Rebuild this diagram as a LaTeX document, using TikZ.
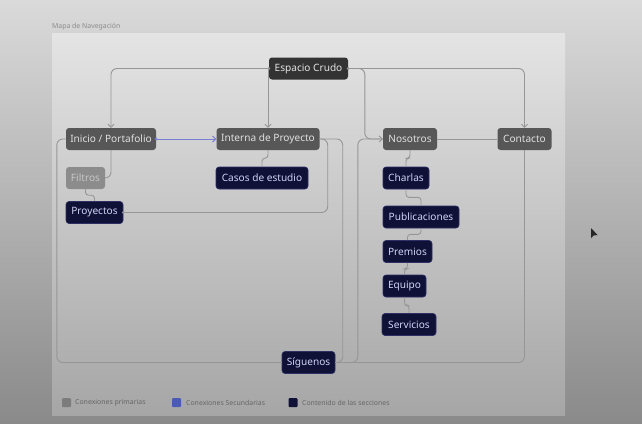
\documentclass[tikz,border=0pt]{standalone}
\usepackage{fontspec}
\setmainfont{Noto Sans}
\usetikzlibrary{arrows.meta,calc}
\definecolor{bgtop}{HTML}{DADADA}
\definecolor{bgbot}{HTML}{8A8A8A}
\definecolor{pantop}{HTML}{E4E4E4}
\definecolor{panbot}{HTML}{A6A6A6}
\definecolor{espfill}{HTML}{333333}
\definecolor{primfill}{HTML}{575757}
\definecolor{filfill}{HTML}{8C8C8C}
\definecolor{navyfill}{HTML}{0F1136}
\definecolor{navyedge}{HTML}{2C3064}
\definecolor{lineg}{HTML}{969696}
\definecolor{lineb}{HTML}{7A7FD6}
\definecolor{leggray}{HTML}{7C7C7C}
\definecolor{legblue}{HTML}{4A5AB5}
\definecolor{legtext}{HTML}{666666}
\tikzset{
  box/.style={rounded corners=3pt, minimum height=22pt, inner sep=0pt,
    font=\fontsize{10.1}{12}\selectfont},
  rootbox/.style={box, fill=espfill, text=white!90!black},
  primbox/.style={box, fill=primfill, text=white!88!black},
  filbox/.style={box, fill=filfill, text=white!78!black},
  navybox/.style={box, fill=navyfill, draw=navyedge, line width=0.6pt, text=white!86!blue!96!black},
  conn/.style={draw=lineg, line width=0.9pt, rounded corners=6pt},
  wig/.style={draw=lineg, line width=0.9pt, rounded corners=3pt},
  bconn/.style={draw=lineb, line width=1pt},
  tip/.style={-{Straight Barb[length=3pt,width=6pt]}},
  legsq/.style={rounded corners=1pt, minimum size=9pt, inner sep=0pt},
  legtxt/.style={anchor=west, inner sep=0pt, text=legtext, font=\fontsize{6.9}{8}\selectfont}
}
\begin{document}
\begin{tikzpicture}[x=1pt,y=-1pt]
\useasboundingbox (0,0) rectangle (642,423);
\shade[top color=bgtop, bottom color=bgbot] (0,0) rectangle (642,423);
\shade[top color=pantop, bottom color=panbot] (52,33) rectangle (565,415);
\node[anchor=west, inner sep=0pt, text=black!45, font=\fontsize{6.9}{8}\selectfont] (title) at (52,27) {Mapa de Navegación};

% nodes
\node[rootbox, minimum width=79pt] (esp) at (308.5,68.5) {Espacio Crudo};
\node[primbox, minimum width=90pt] (ini) at (111,139) {Inicio / Portafolio};
\node[primbox, minimum width=103pt] (int) at (268,139) {Interna de Proyecto};
\node[primbox, minimum width=54pt] (nos) at (410,139) {Nosotros};
\node[primbox, minimum width=54pt] (con) at (524.5,139) {Contacto};
\node[filbox, minimum width=39pt] (fil) at (85.5,178) {Filtros};
\node[navybox, minimum width=92pt] (cas) at (262,178) {Casos de estudio};
\node[navybox, minimum width=57pt] (pro) at (94.5,212.5) {Proyectos};
\node[navybox, minimum width=46pt] (cha) at (406,178) {Charlas};
\node[navybox, minimum width=76pt] (pub) at (421,217) {Publicaciones};
\node[navybox, minimum width=49pt] (pre) at (407.5,251.5) {Premios};
\node[navybox, minimum width=43pt] (equ) at (404.5,286) {Equipo};
\node[navybox, minimum width=54pt] (ser) at (409,324.5) {Servicios};
\node[navybox, minimum width=53pt] (sig) at (308.5,362.5) {Síguenos};

% connectors
\draw[conn,tip] (esp.west) -| (ini.north);
\draw[conn,tip] (int.north |- esp.west) -- (int.north);
\draw[conn,tip] (esp.east) -| (con.north);
\draw[conn,tip] (esp.east) -| ($(nos.west)+(-18,0)$) -- (nos.west);
\draw[bconn,tip] (ini.east) -- (int.west);
\draw[conn] (nos.east) -- (con.west);
\draw[conn] (ini.south) |- (fil.east);
\draw[wig] (fil.south) -- ++(0,6) -| (pro.north);
\draw[wig] (int.south) -- ++(0,8) -| (cas.north);
\draw[wig] (nos.south) -- ++(0,8) -| (cha.north);
\draw[wig] (cha.south) -- ++(0,8) -| (pub.north);
\draw[wig] (pub.south) -- ++(0,6) -| (pre.north);
\draw[wig] (pre.south) -- ++(0,6) -| (equ.north);
\draw[wig] (equ.south) -- ++(0,8) -| (ser.north);
\draw[conn] (int.east) -- ++(8,0) |- (pro.east);
\draw[conn] (int.east) -- ++(23,0) |- (sig.east);
\draw[conn] (nos.west) -- ++(-25,0) |- (sig.east);
\draw[conn] (con.south) |- (sig.east);
\draw[conn] (ini.west) -- ++(-9,0) |- (sig.west);

% start dots
\fill[lineg] (esp.west) circle (1.5);
\fill[lineg] (esp.east) circle (1.5);
\fill[lineb] (ini.east) circle (1.5);
\fill[lineg] (pro.east) circle (1.5);

% legend
\node[legsq, fill=leggray] (lg1) at (66.5,402.5) {};
\node[legtxt] (lt1) at (75,402.5) {Conexiones primarias};
\node[legsq, fill=legblue] (lg2) at (176.5,402.5) {};
\node[legtxt] (lt2) at (186,402.5) {Conexiones Secundarias};
\node[legsq, fill=navyfill] (lg3) at (293,402.5) {};
\node[legtxt] (lt3) at (302,402.5) {Contenido de las secciones};

% mouse pointer
\fill[black!85] (591,228) -- (591,238) -- (593.5,235.5) -- (597.5,235) -- cycle;
\end{tikzpicture}
\end{document}
